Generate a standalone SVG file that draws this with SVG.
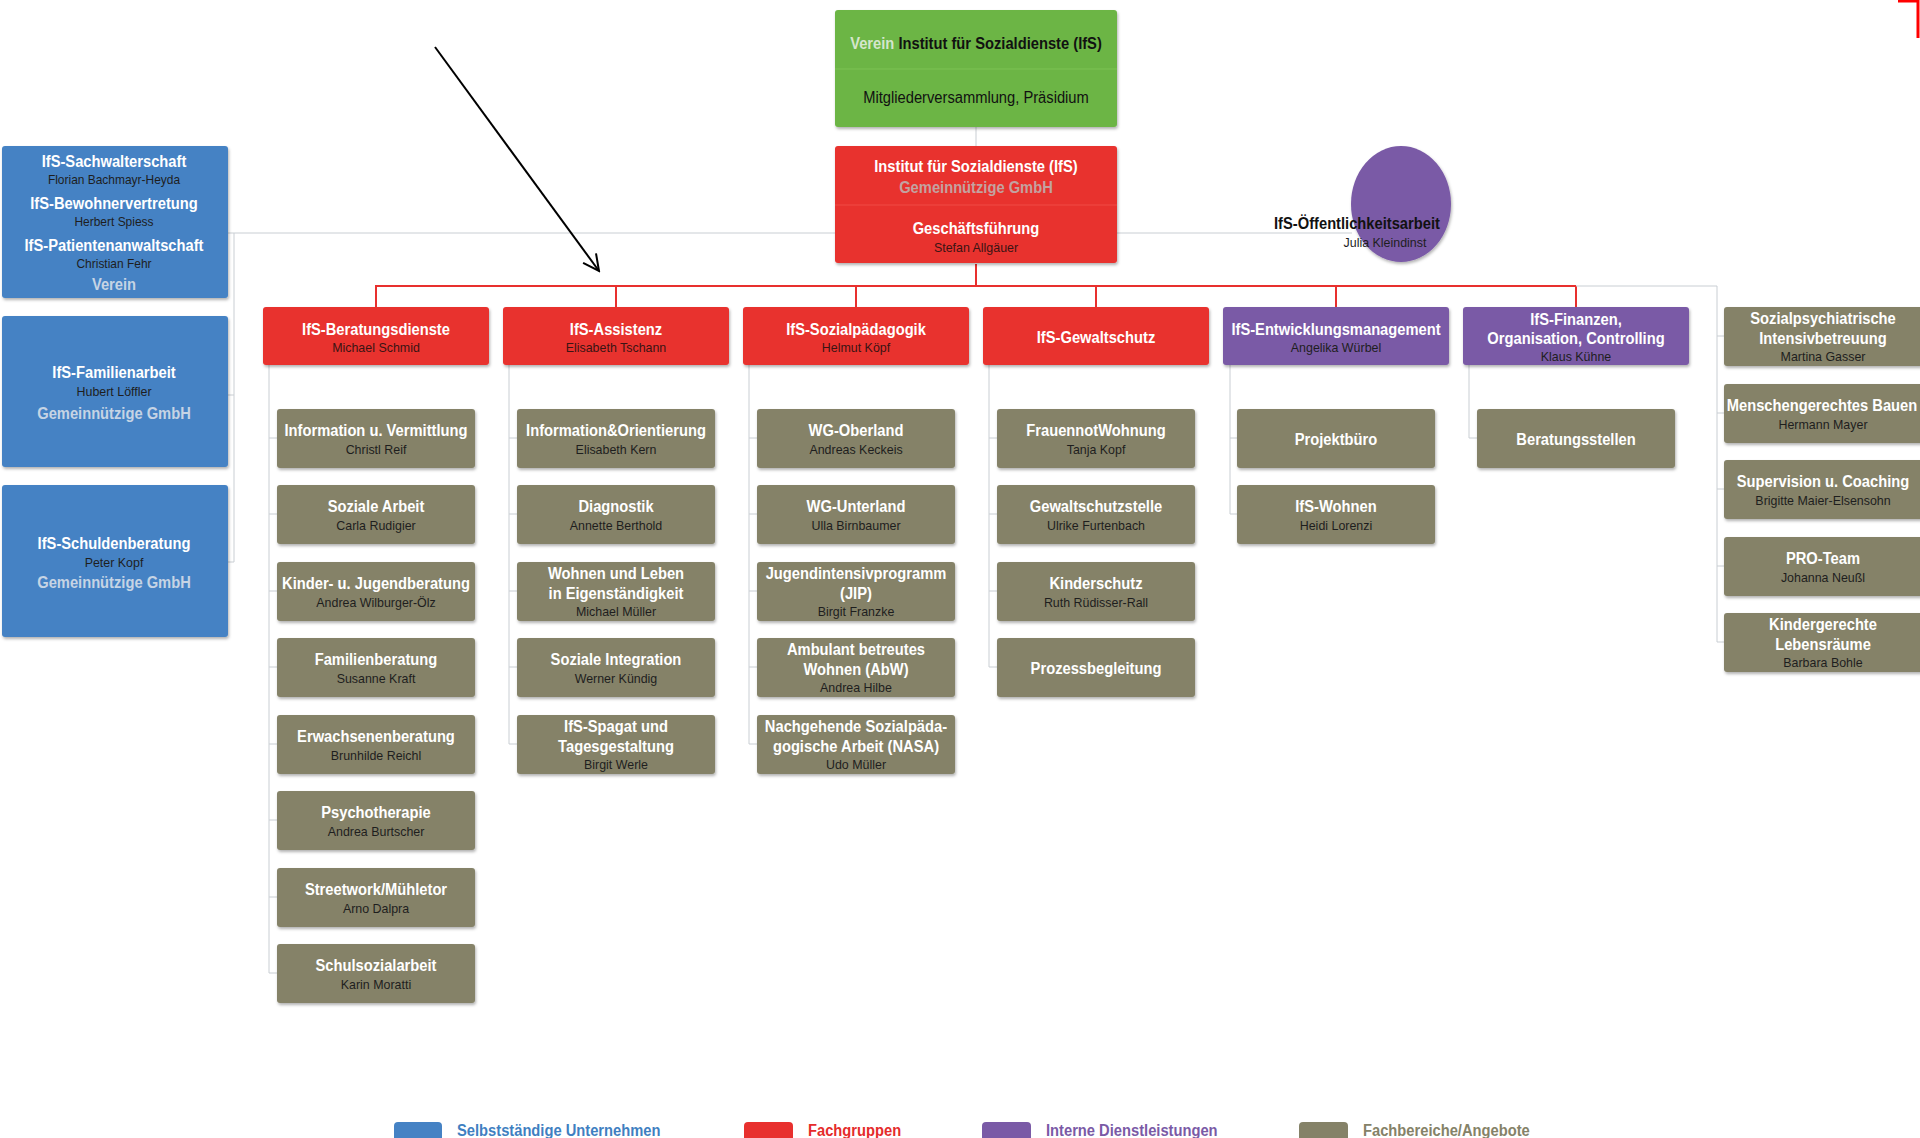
<svg xmlns="http://www.w3.org/2000/svg" width="1920" height="1138" viewBox="0 0 1920 1138">
<defs>
<filter id="sh" x="-10%" y="-10%" width="125%" height="130%">
<feDropShadow dx="1" dy="2" stdDeviation="1.5" flood-color="#000" flood-opacity="0.3"/>
</filter>
<marker id="ah" viewBox="0 0 20 20" refX="18" refY="10" markerWidth="20" markerHeight="20" markerUnits="userSpaceOnUse" orient="auto">
<path d="M2,2 L18,10 L2,18" fill="none" stroke="#000" stroke-width="2"/>
</marker>
</defs>
<style>
text{font-family:"Liberation Sans",Arial,sans-serif;text-anchor:middle;transform:scaleX(0.92);transform-box:fill-box;transform-origin:center}
.h{font-weight:bold;font-size:16px;fill:#fff}
.n{font-size:13.5px;fill:#1e1e1e}
.nr{font-size:13.5px;fill:#3a1414}
.blue{fill:#4582c4}
.red{fill:#e8302e}
.grn{fill:#6cb545}
.pur{fill:#7a5aa6}
.gry{fill:#858268}
.box{filter:url(#sh)}
.c{fill:none;stroke:#c9ced3;stroke-width:1}
.cr{fill:none;stroke:#e8302e;stroke-width:2}
.lg{font-weight:bold;font-size:16px;text-anchor:start;transform-origin:left center}
</style>
<rect width="1920" height="1138" fill="#fff"/>
<path d="M1898,1 L1918,1 L1918,38" fill="none" stroke="#f00" stroke-width="3"/>

<g id="connectors">
<path class="c" d="M228,233 H835 M1117,233 H1352 M234,233 V562 M228,395 H234 M228,562 H234"/>
<path class="c" d="M976,127 V146"/>
<path class="cr" d="M976,264 V286 M375,286 H1576 M376,286 V307 M616,286 V307 M856,286 V307 M1096,286 V307 M1336,286 V307 M1576,286 V307"/>
<path class="c" d="M1576,286 H1717 V642 M1717,336 H1724 M1717,413 H1724 M1717,489 H1724 M1717,566 H1724 M1717,642 H1724"/>
<path class="c" d="M269,365 V973 M269,438 H277 M269,514 H277 M269,591 H277 M269,667 H277 M269,744 H277 M269,820 H277 M269,897 H277 M269,973 H277"/>
<path class="c" d="M509,365 V744 M509,438 H517 M509,514 H517 M509,591 H517 M509,667 H517 M509,744 H517"/>
<path class="c" d="M749,365 V744 M749,438 H757 M749,514 H757 M749,591 H757 M749,667 H757 M749,744 H757"/>
<path class="c" d="M989,365 V667 M989,438 H997 M989,514 H997 M989,591 H997 M989,667 H997"/>
<path class="c" d="M1230,365 V514 M1230,438 H1237 M1230,514 H1237"/>
<path class="c" d="M1469,365 V438 M1469,438 H1477"/>
<line x1="435" y1="47" x2="599" y2="271" stroke="#000" stroke-width="2" marker-end="url(#ah)"/>
</g>

<g id="verein">
<rect class="grn box" x="835" y="10" width="282" height="117" rx="3"/>
<line x1="835" y1="69" x2="1117" y2="69" stroke="#7cc255" stroke-width="1"/>
<text x="976" y="49" class="h" style="fill:#111"><tspan style="fill:#d5e6cc">Verein</tspan> Institut für Sozialdienste (IfS)</text>
<text x="976" y="103" style="font-size:16px;fill:#111">Mitgliederversammlung, Präsidium</text>
</g>

<g id="gmbh">
<rect class="red box" x="835" y="146" width="282" height="117" rx="3"/>
<line x1="835" y1="205" x2="1117" y2="205" stroke="#f04a44" stroke-width="1"/>
<text x="976" y="172" class="h">Institut für Sozialdienste (IfS)</text>
<text x="976" y="193" class="h" style="fill:#c3a2a0">Gemeinnützige GmbH</text>
<text x="976" y="234" class="h">Geschäftsführung</text>
<text x="976" y="252" class="nr">Stefan Allgäuer</text>
</g>

<g id="oeffentlichkeit">
<ellipse class="pur box" cx="1401" cy="204" rx="50" ry="58"/>
<text x="1357" y="229" class="h" style="fill:#111">IfS-Öffentlichkeitsarbeit</text>
<text x="1385" y="247" class="n">Julia Kleindinst</text>
</g>

<g id="blue1">
<rect class="blue box" x="2" y="146" width="226" height="152" rx="3"/>
<text x="114" y="167" class="h">IfS-Sachwalterschaft</text>
<text x="114" y="184" class="n" style="font-size:13px">Florian Bachmayr-Heyda</text>
<text x="114" y="209" class="h">IfS-Bewohnervertretung</text>
<text x="114" y="226" class="n" style="font-size:13px">Herbert Spiess</text>
<text x="114" y="251" class="h">IfS-Patientenanwaltschaft</text>
<text x="114" y="268" class="n" style="font-size:13px">Christian Fehr</text>
<text x="114" y="290" class="h" style="fill:#c6d4e4">Verein</text>
</g>
<g id="blue2">
<rect class="blue box" x="2" y="316" width="226" height="151" rx="3"/>
<text x="114" y="378" class="h">IfS-Familienarbeit</text>
<text x="114" y="396" class="n">Hubert Löffler</text>
<text x="114" y="419" class="h" style="fill:#c6d4e4">Gemeinnützige GmbH</text>
</g>
<g id="blue3">
<rect class="blue box" x="2" y="485" width="226" height="152" rx="3"/>
<text x="114" y="549" class="h">IfS-Schuldenberatung</text>
<text x="114" y="567" class="n">Peter Kopf</text>
<text x="114" y="588" class="h" style="fill:#c6d4e4">Gemeinnützige GmbH</text>
</g>

<g id="beratungsdienste">
<rect class="red box" x="263" y="307" width="226" height="58" rx="3"/>
<text x="376" y="335" class="h">IfS-Beratungsdienste</text>
<text x="376" y="352" class="nr">Michael Schmid</text>
</g>
<g id="assistenz">
<rect class="red box" x="503" y="307" width="226" height="58" rx="3"/>
<text x="616" y="335" class="h">IfS-Assistenz</text>
<text x="616" y="352" class="nr">Elisabeth Tschann</text>
</g>
<g id="sozialpaedagogik">
<rect class="red box" x="743" y="307" width="226" height="58" rx="3"/>
<text x="856" y="335" class="h">IfS-Sozialpädagogik</text>
<text x="856" y="352" class="nr">Helmut Köpf</text>
</g>
<g id="gewaltschutz">
<rect class="red box" x="983" y="307" width="226" height="58" rx="3"/>
<text x="1096" y="343" class="h">IfS-Gewaltschutz</text>
</g>
<g id="entwicklung">
<rect class="pur box" x="1223" y="307" width="226" height="58" rx="3"/>
<text x="1336" y="335" class="h">IfS-Entwicklungsmanagement</text>
<text x="1336" y="352" class="n">Angelika Würbel</text>
</g>
<g id="finanzen">
<rect class="pur box" x="1463" y="307" width="226" height="58" rx="3"/>
<text x="1576" y="325" class="h">IfS-Finanzen,</text>
<text x="1576" y="344" class="h">Organisation, Controlling</text>
<text x="1576" y="361" class="n">Klaus Kühne</text>
</g>

<!-- column 1 -->
<g id="b1-0"><rect class="gry box" x="277" y="409" width="198" height="59" rx="3"/><text x="376" y="436" class="h">Information u. Vermittlung</text><text x="376" y="454" class="n">Christl Reif</text></g>
<g id="b1-1"><rect class="gry box" x="277" y="485" width="198" height="59" rx="3"/><text x="376" y="512" class="h">Soziale Arbeit</text><text x="376" y="530" class="n">Carla Rudigier</text></g>
<g id="b1-2"><rect class="gry box" x="277" y="562" width="198" height="59" rx="3"/><text x="376" y="589" class="h">Kinder- u. Jugendberatung</text><text x="376" y="607" class="n">Andrea Wilburger-Ölz</text></g>
<g id="b1-3"><rect class="gry box" x="277" y="638" width="198" height="59" rx="3"/><text x="376" y="665" class="h">Familienberatung</text><text x="376" y="683" class="n">Susanne Kraft</text></g>
<g id="b1-4"><rect class="gry box" x="277" y="715" width="198" height="59" rx="3"/><text x="376" y="742" class="h">Erwachsenenberatung</text><text x="376" y="760" class="n">Brunhilde Reichl</text></g>
<g id="b1-5"><rect class="gry box" x="277" y="791" width="198" height="59" rx="3"/><text x="376" y="818" class="h">Psychotherapie</text><text x="376" y="836" class="n">Andrea Burtscher</text></g>
<g id="b1-6"><rect class="gry box" x="277" y="868" width="198" height="59" rx="3"/><text x="376" y="895" class="h">Streetwork/Mühletor</text><text x="376" y="913" class="n">Arno Dalpra</text></g>
<g id="b1-7"><rect class="gry box" x="277" y="944" width="198" height="59" rx="3"/><text x="376" y="971" class="h">Schulsozialarbeit</text><text x="376" y="989" class="n">Karin Moratti</text></g>

<!-- column 2 -->
<g id="b2-0"><rect class="gry box" x="517" y="409" width="198" height="59" rx="3"/><text x="616" y="436" class="h">Information&amp;Orientierung</text><text x="616" y="454" class="n">Elisabeth Kern</text></g>
<g id="b2-1"><rect class="gry box" x="517" y="485" width="198" height="59" rx="3"/><text x="616" y="512" class="h">Diagnostik</text><text x="616" y="530" class="n">Annette Berthold</text></g>
<g id="b2-2"><rect class="gry box" x="517" y="562" width="198" height="59" rx="3"/><text x="616" y="579" class="h">Wohnen und Leben</text><text x="616" y="599" class="h">in Eigenständigkeit</text><text x="616" y="616" class="n">Michael Müller</text></g>
<g id="b2-3"><rect class="gry box" x="517" y="638" width="198" height="59" rx="3"/><text x="616" y="665" class="h">Soziale Integration</text><text x="616" y="683" class="n">Werner Kündig</text></g>
<g id="b2-4"><rect class="gry box" x="517" y="715" width="198" height="59" rx="3"/><text x="616" y="732" class="h">IfS-Spagat und</text><text x="616" y="752" class="h">Tagesgestaltung</text><text x="616" y="769" class="n">Birgit Werle</text></g>

<!-- column 3 -->
<g id="b3-0"><rect class="gry box" x="757" y="409" width="198" height="59" rx="3"/><text x="856" y="436" class="h">WG-Oberland</text><text x="856" y="454" class="n">Andreas Keckeis</text></g>
<g id="b3-1"><rect class="gry box" x="757" y="485" width="198" height="59" rx="3"/><text x="856" y="512" class="h">WG-Unterland</text><text x="856" y="530" class="n">Ulla Birnbaumer</text></g>
<g id="b3-2"><rect class="gry box" x="757" y="562" width="198" height="59" rx="3"/><text x="856" y="579" class="h">Jugendintensivprogramm</text><text x="856" y="599" class="h">(JIP)</text><text x="856" y="616" class="n">Birgit Franzke</text></g>
<g id="b3-3"><rect class="gry box" x="757" y="638" width="198" height="59" rx="3"/><text x="856" y="655" class="h">Ambulant betreutes</text><text x="856" y="675" class="h">Wohnen (AbW)</text><text x="856" y="692" class="n">Andrea Hilbe</text></g>
<g id="b3-4"><rect class="gry box" x="757" y="715" width="198" height="59" rx="3"/><text x="856" y="732" class="h">Nachgehende Sozialpäda-</text><text x="856" y="752" class="h">gogische Arbeit (NASA)</text><text x="856" y="769" class="n">Udo Müller</text></g>

<!-- column 4 -->
<g id="b4-0"><rect class="gry box" x="997" y="409" width="198" height="59" rx="3"/><text x="1096" y="436" class="h">FrauennotWohnung</text><text x="1096" y="454" class="n">Tanja Kopf</text></g>
<g id="b4-1"><rect class="gry box" x="997" y="485" width="198" height="59" rx="3"/><text x="1096" y="512" class="h">Gewaltschutzstelle</text><text x="1096" y="530" class="n">Ulrike Furtenbach</text></g>
<g id="b4-2"><rect class="gry box" x="997" y="562" width="198" height="59" rx="3"/><text x="1096" y="589" class="h">Kinderschutz</text><text x="1096" y="607" class="n">Ruth Rüdisser-Rall</text></g>
<g id="b4-3"><rect class="gry box" x="997" y="638" width="198" height="59" rx="3"/><text x="1096" y="674" class="h">Prozessbegleitung</text></g>

<!-- column 5 -->
<g id="b5-0"><rect class="gry box" x="1237" y="409" width="198" height="59" rx="3"/><text x="1336" y="445" class="h">Projektbüro</text></g>
<g id="b5-1"><rect class="gry box" x="1237" y="485" width="198" height="59" rx="3"/><text x="1336" y="512" class="h">IfS-Wohnen</text><text x="1336" y="530" class="n">Heidi Lorenzi</text></g>

<!-- column 6 -->
<g id="b6-0"><rect class="gry box" x="1477" y="409" width="198" height="59" rx="3"/><text x="1576" y="445" class="h">Beratungsstellen</text></g>

<!-- side column -->
<g id="s0"><rect class="gry box" x="1724" y="307" width="200" height="59" rx="3"/><text x="1823" y="324" class="h">Sozialpsychiatrische</text><text x="1823" y="344" class="h">Intensivbetreuung</text><text x="1823" y="361" class="n">Martina Gasser</text></g>
<g id="s1"><rect class="gry box" x="1724" y="384" width="200" height="59" rx="3"/><text x="1822" y="411" class="h">Menschengerechtes Bauen</text><text x="1823" y="429" class="n">Hermann Mayer</text></g>
<g id="s2"><rect class="gry box" x="1724" y="460" width="200" height="59" rx="3"/><text x="1823" y="487" class="h">Supervision u. Coaching</text><text x="1823" y="505" class="n">Brigitte Maier-Elsensohn</text></g>
<g id="s3"><rect class="gry box" x="1724" y="537" width="200" height="59" rx="3"/><text x="1823" y="564" class="h">PRO-Team</text><text x="1823" y="582" class="n">Johanna Neußl</text></g>
<g id="s4"><rect class="gry box" x="1724" y="613" width="200" height="59" rx="3"/><text x="1823" y="630" class="h">Kindergerechte</text><text x="1823" y="650" class="h">Lebensräume</text><text x="1823" y="667" class="n">Barbara Bohle</text></g>

<g id="legend">
<rect class="blue" x="394" y="1122" width="48" height="22" rx="4"/>
<text x="457" y="1136" class="lg" style="fill:#3f7fc1">Selbstständige Unternehmen</text>
<rect class="red" x="744" y="1122" width="49" height="22" rx="4"/>
<text x="808" y="1136" class="lg" style="fill:#e52b2b">Fachgruppen</text>
<rect class="pur" x="982" y="1122" width="49" height="22" rx="4"/>
<text x="1046" y="1136" class="lg" style="fill:#7a5aa6">Interne Dienstleistungen</text>
<rect class="gry" x="1299" y="1122" width="49" height="22" rx="4"/>
<text x="1363" y="1136" class="lg" style="fill:#858268">Fachbereiche/Angebote</text>
</g>
</svg>
